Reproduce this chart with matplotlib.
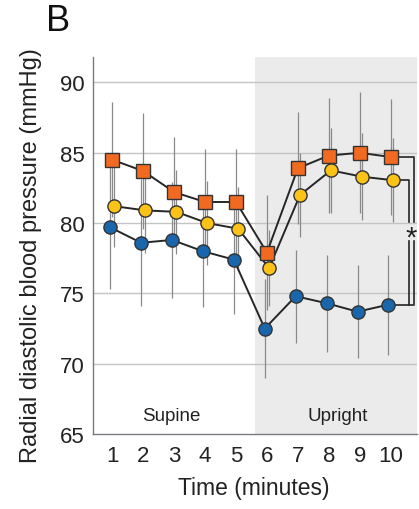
import numpy as np
import matplotlib
matplotlib.use('Agg')
import matplotlib.pyplot as plt

plt.rcParams['font.family'] = ['Liberation Sans', 'DejaVu Sans']

minutes = np.arange(1, 11)
tick_labels = [str(m) for m in minutes]

orange_mean = [84.5, 83.7, 82.2, 81.5, 81.5, 77.9, 83.9, 84.8, 85.0, 84.7]
orange_sd = [4.1, 4.1, 3.9, 3.8, 3.75, 4.1, 4.0, 4.1, 4.3, 4.1]
yellow_mean = [81.2, 80.9, 80.8, 80.0, 79.6, 76.8, 82.0, 83.75, 83.3, 83.05]
yellow_sd = [2.9, 3.0, 3.0, 3.0, 3.0, 2.7, 3.0, 3.0, 3.1, 3.0]
blue_mean = [79.7, 78.6, 78.8, 78.0, 77.4, 72.5, 74.8, 74.3, 73.7, 74.2]
blue_sd = [4.4, 4.5, 4.1, 4.0, 3.9, 3.5, 3.3, 3.45, 3.3, 3.55]

fig = plt.figure(figsize=(4.19, 5.10), dpi=100)
ax = fig.add_axes([0.222, 0.147, 0.773, 0.739])

ax.set_xlim(0.376, 10.85)
ax.set_ylim(65, 91.8)

# upright phase shading
ax.axvspan(5.615, 10.85, color='#ebebeb', zorder=0, lw=0)

for y in [70, 75, 80, 85, 90]:
    ax.axhline(y, color='#c4c4c4', lw=1, zorder=1)

series = [
    (blue_mean, blue_sd, 'o', '#1a66ad', -0.07, 9.5),
    (yellow_mean, yellow_sd, 'o', '#fbc217', 0.07, 9.5),
    (orange_mean, orange_sd, 's', '#f26a21', 0.0, 9.8),
]
for mean, sd, mk, col, off, ms in series:
    x = minutes + off
    ax.errorbar(x, mean, yerr=sd, fmt='none', ecolor='#8a8a8a', elinewidth=0.9,
                capsize=0, zorder=2)
    ax.plot(x, mean, color='#262626', lw=1.4, zorder=3)
    ax.plot(x, mean, ls='none', marker=mk, ms=ms, mfc=col, mec='#333333',
            mew=1.0, zorder=4)

# significance bracket
x_out = 10.74
x_in = 10.61
top_end, bot_start = 80.05, 78.75
ax.plot([10 + 0.0, x_out, x_out], [orange_mean[-1], orange_mean[-1], top_end],
        color='#262626', lw=1.2, zorder=3)
ax.plot([10 + 0.07, x_in, x_in], [yellow_mean[-1], yellow_mean[-1], top_end],
        color='#262626', lw=1.2, zorder=3)
ax.plot([x_in, x_in], [bot_start, blue_mean[-1]], color='#262626', lw=1.2, zorder=3)
ax.plot([10 - 0.07, x_out, x_out], [blue_mean[-1], blue_mean[-1], bot_start],
        color='#262626', lw=1.2, zorder=3)
ax.text((x_in + x_out) / 2, 79.0, '*', ha='center', va='center', fontsize=21,
        color='#222222')

ax.text(2.9, 66.3, 'Supine', ha='center', va='center', fontsize=13.5, color='#222222')
ax.text(8.3, 66.3, 'Upright', ha='center', va='center', fontsize=13.5, color='#222222')

ax.set_xticks(minutes)
ax.set_xticklabels(tick_labels)
ax.set_yticks([65, 70, 75, 80, 85, 90])
ax.tick_params(length=0, labelsize=16, colors='#222222')
ax.tick_params(axis='x', pad=8)
ax.tick_params(axis='y', pad=6)

for s in ['top', 'right']:
    ax.spines[s].set_visible(False)
for s in ['left', 'bottom']:
    ax.spines[s].set_color('#7a7a80')
    ax.spines[s].set_linewidth(1.0)

ax.set_ylabel('Radial diastolic blood pressure (mmHg)', fontsize=17,
              color='#222222', va='center')
ax.yaxis.set_label_coords(-0.19, 0.475)
ax.set_xlabel('Time (minutes)', fontsize=16.5, color='#222222', va='center')
ax.xaxis.set_label_coords(0.497, -0.143)

fig.text(0.139, 0.957, 'B', fontsize=26, ha='center', va='center', color='#111111')

fig.savefig('out.png', dpi=100, facecolor='white')
